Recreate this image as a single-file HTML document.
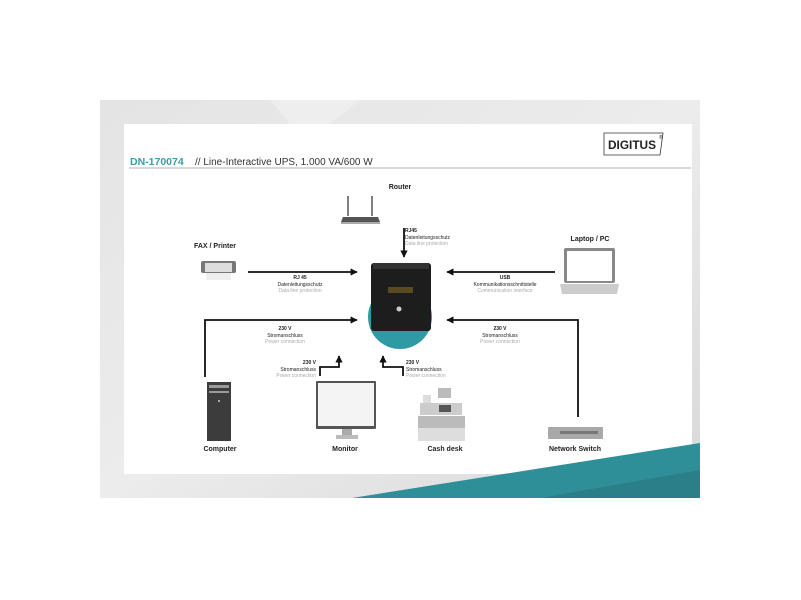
<!DOCTYPE html>
<html><head><meta charset="utf-8"><style>
body{margin:0;background:#fff;width:801px;height:600px;overflow:hidden;font-family:"Liberation Sans",sans-serif}
.t{position:absolute;font-size:5px;text-align:center;line-height:6.5px;color:#222}
.t b{font-size:5px}
.t i{font-style:normal;color:#aaa}
.h{position:absolute;font-size:7px;font-weight:bold;color:#222;text-align:center}
</style></head><body>
<svg width="801" height="600" style="position:absolute;left:0;top:0">
<defs>
<linearGradient id="bg" x1="0" y1="0" x2="1" y2="1"><stop offset="0" stop-color="#e4e4e4"/><stop offset="0.5" stop-color="#ececec"/><stop offset="1" stop-color="#d8d8d8"/></linearGradient>
<marker id="a" viewBox="0 0 10 10" refX="9" refY="5" markerWidth="4" markerHeight="4" orient="auto"><path d="M0,0L10,5L0,10z" fill="#111"/></marker>
</defs>
<rect x="100" y="100" width="600" height="398" fill="url(#bg)"/>
<polygon points="270,100 360,100 330,124 290,124" fill="#eeeeee"/>
<rect x="124" y="124" width="568" height="350" fill="#fff"/>
<polygon points="352,498 700,443 700,498" fill="#2e8f98"/>
<polygon points="540,498 700,470 700,498" fill="#2a7f88"/>
<line x1="129" y1="168" x2="691" y2="168" stroke="#999" stroke-width="0.8"/>
<path d="M604,133 H663 L660,155 H604 Z" fill="#fff" stroke="#333" stroke-width="0.8"/>
<text x="632" y="149" font-size="12" font-weight="bold" font-family="Liberation Sans Narrow,Liberation Sans" text-anchor="middle" fill="#222" textLength="48" lengthAdjust="spacingAndGlyphs">DIGITUS</text>
<text x="659" y="139" font-size="5" fill="#222">®</text>
<text x="130" y="165" font-size="10.5" font-weight="bold" fill="#3a9ea8">DN-170074</text>
<text x="195" y="165" font-size="10" fill="#333">//  Line-Interactive UPS, 1.000 VA/600 W</text>
<!-- UPS -->
<circle cx="400" cy="317" r="32" fill="#2f9aa3"/>
<rect x="371" y="263" width="60" height="68" rx="3" fill="#1d1d1d"/>
<rect x="373" y="263" width="56" height="6" fill="#333"/>
<rect x="388" y="287" width="25" height="6" fill="#5a4a20"/>
<circle cx="399" cy="309" r="2.5" fill="#ccc"/>
<!-- arrows -->
<g stroke="#111" stroke-width="1.8" fill="none" marker-end="url(#a)">
<line x1="404" y1="228" x2="404" y2="257"/>
<line x1="248" y1="272" x2="357" y2="272"/>
<line x1="555" y1="272" x2="447" y2="272"/>
<polyline points="205,377 205,320 357,320"/>
<polyline points="578,417 578,320 447,320"/>
<polyline points="320,376 320,367 339,367 339,356"/>
<polyline points="403,376 403,367 383,367 383,356"/>
</g>
<!-- router -->
<line x1="348" y1="196" x2="348" y2="216" stroke="#555" stroke-width="1.5"/>
<line x1="372" y1="196" x2="372" y2="216" stroke="#555" stroke-width="1.5"/>
<path d="M343,217 H378 L380,222 H341 Z" fill="#555"/>
<rect x="341" y="222" width="39" height="2" fill="#aaa"/>
<!-- printer -->
<rect x="201" y="261" width="35" height="12" rx="2" fill="#777"/>
<rect x="205" y="263" width="27" height="9" fill="#ddd"/>
<rect x="206" y="273" width="25" height="7" fill="#eee"/>
<!-- laptop -->
<rect x="564" y="248" width="51" height="35" rx="2" fill="#888"/>
<rect x="567" y="251" width="45" height="30" fill="#fff"/>
<path d="M560,284 H619 L617,294 H562 Z" fill="#ccc"/>
<!-- computer -->
<rect x="207" y="382" width="24" height="59" fill="#3c3c3c"/>
<rect x="209" y="385" width="20" height="3" fill="#999"/>
<rect x="209" y="391" width="20" height="2" fill="#999"/>
<circle cx="219" cy="401" r="1" fill="#ccc"/>
<!-- monitor -->
<rect x="316" y="381" width="60" height="48" rx="1" fill="#555"/>
<rect x="318" y="383" width="56" height="43" fill="#f4f4f4"/>
<rect x="342" y="429" width="10" height="6" fill="#aaa"/>
<rect x="336" y="435" width="22" height="4" fill="#bbb"/>
<!-- cash desk -->
<rect x="438" y="388" width="13" height="10" fill="#bbb"/>
<rect x="423" y="395" width="8" height="10" fill="#ddd"/>
<rect x="420" y="403" width="42" height="12" fill="#ccc"/>
<rect x="439" y="405" width="12" height="7" fill="#555"/>
<rect x="418" y="416" width="47" height="12" fill="#bbb"/>
<rect x="418" y="428" width="47" height="13" fill="#ddd"/>
<!-- switch -->
<rect x="548" y="427" width="55" height="12" rx="1" fill="#a8a8a8"/>
<rect x="560" y="431" width="38" height="3" fill="#777"/>
</svg>
<div class="h" style="left:370px;top:184px;width:60px">Router</div>
<div class="h" style="left:180px;top:243px;width:70px">FAX / Printer</div>
<div class="h" style="left:555px;top:236px;width:70px">Laptop / PC</div>
<div class="h" style="left:185px;top:446px;width:70px">Computer</div>
<div class="h" style="left:310px;top:446px;width:70px">Monitor</div>
<div class="h" style="left:400px;top:446px;width:90px">Cash desk</div>
<div class="h" style="left:535px;top:446px;width:80px">Network Switch</div>
<div class="t" style="left:405px;top:228px;text-align:left"><b>RJ45</b><br>Datenleitungsschutz<br><i>Data line protection</i></div>
<div class="t" style="left:260px;top:275px;width:80px"><b>RJ 45</b><br>Datenleitungsschutz<br><i>Data line protection</i></div>
<div class="t" style="left:460px;top:275px;width:90px"><b>USB</b><br>Kommunikationsschnittstelle<br><i>Communication interface</i></div>
<div class="t" style="left:245px;top:326px;width:80px"><b>230 V</b><br>Stromanschluss<br><i>Power connection</i></div>
<div class="t" style="left:460px;top:326px;width:80px"><b>230 V</b><br>Stromanschluss<br><i>Power connection</i></div>
<div class="t" style="left:256px;top:360px;width:60px;text-align:right"><b>230 V</b><br>Stromanschluss<br><i>Power connection</i></div>
<div class="t" style="left:406px;top:360px;width:80px;text-align:left"><b>230 V</b><br>Stromanschluss<br><i>Power connection</i></div>
</body></html>
